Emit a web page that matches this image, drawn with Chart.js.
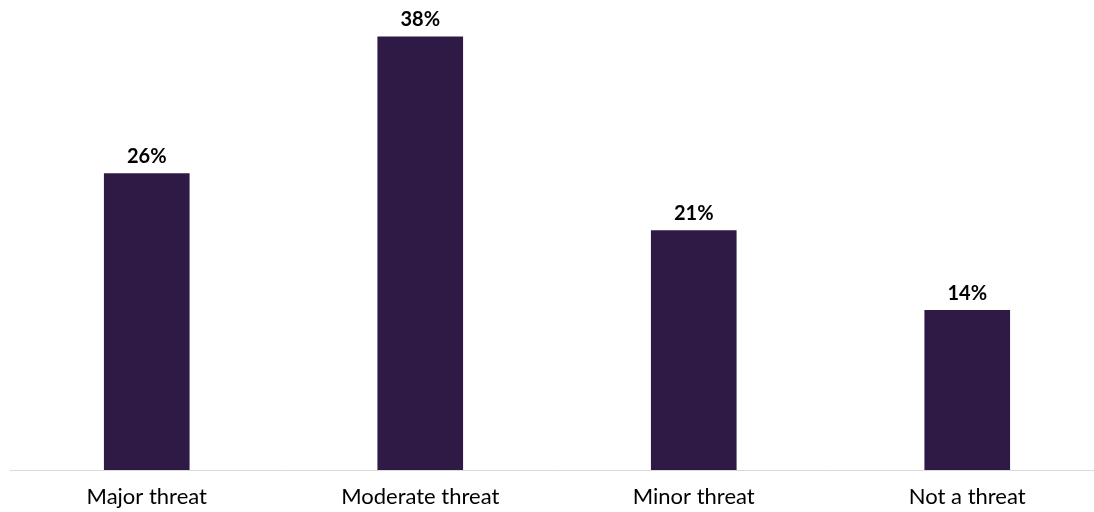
<!DOCTYPE html>
<html>
<head>
<meta charset="utf-8">
<script src="https://cdn.jsdelivr.net/npm/chart.js@4/dist/chart.umd.min.js"></script>
<style>
html,body{margin:0;padding:0;background:#fff;overflow:hidden;}
#wrap{position:relative;width:1104px;height:512px;}
</style>
</head>
<body>
<div id="wrap"><canvas id="c"></canvas></div>
<script>
const categories = ["Major threat", "Moderate threat", "Minor threat", "Not a threat"];
const values = [26, 38, 21, 14];
const valueLabels = ["26%", "38%", "21%", "14%"];

const labelPlugin = {
  id: 'valueLabels',
  afterDatasetsDraw(chart) {
    const ctx = chart.ctx;
    const meta = chart.getDatasetMeta(0);
    ctx.save();
    ctx.font = 'bold 20px Lato, "Open Sans", sans-serif';
    ctx.fillStyle = '#000';
    ctx.textAlign = 'center';
    ctx.textBaseline = 'middle';
    meta.data.forEach((bar, i) => {
      ctx.fillText(valueLabels[i], bar.x, bar.y - 17);
    });
    ctx.restore();
  }
};

new Chart(document.getElementById('c'), {
  type: 'bar',
  data: {
    labels: categories,
    datasets: [{
      data: values,
      backgroundColor: '#2e1a45',
      barThickness: 85
    }]
  },
  options: {
    responsive: true,
    maintainAspectRatio: false,
    animation: false,
    layout: { padding: { top: 14, left: 10, right: 0, bottom: 2 } },
    plugins: { legend: { display: false }, tooltip: { enabled: false } },
    scales: {
      x: {
        grid: { display: false, drawTicks: false },
        border: { display: true, color: '#d9d9d9', width: 1 },
        ticks: { color: '#000', padding: 14, font: { family: 'Lato, "Open Sans", sans-serif', size: 22 } },
        afterFit(scale) { scale.height = 40; }
      },
      y: {
        display: false,
        min: 0,
        max: 40
      }
    }
  },
  plugins: [labelPlugin]
});
</script>
</body>
</html>
